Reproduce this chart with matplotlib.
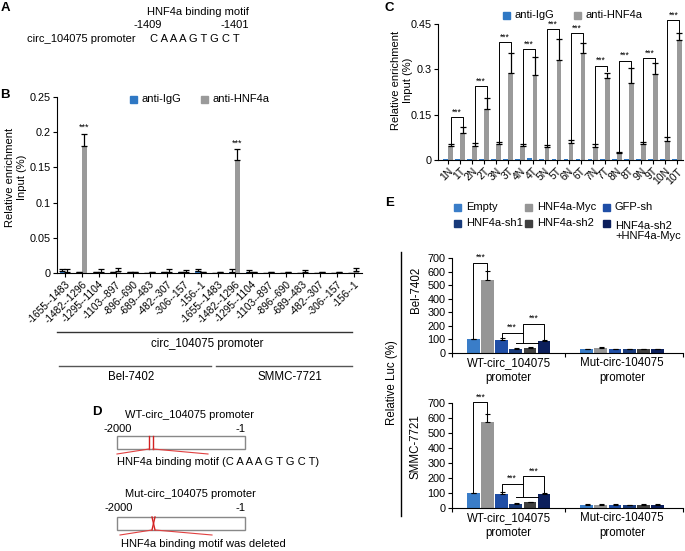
import numpy as np
import matplotlib
matplotlib.use("Agg")
import matplotlib.pyplot as plt
from matplotlib.patches import Rectangle
from matplotlib.transforms import ScaledTranslation

plt.rcParams['font.family'] = ['Liberation Sans', 'DejaVu Sans']
plt.rcParams['font.size'] = 8
W, H = 685, 551

BLUE = "#2f78c4"
GRAY = "#9a9a9a"

# panel B data (ChIP, 9 promoter regions x 2 cell lines)
b_regions = ["-1655--1483", "-1482--1296", "-1295--1104", "-1103--897", "-896--690",
             "-689--483", "-482--307", "-306--157", "-156--1"]
b_labels = b_regions + b_regions
b_igg = [0.003, 0.001, 0.001, 0.001, 0.001, 0.0005, 0.001, 0.001, 0.003,
         0.0005, 0.002, 0.002, 0.0005, 0.0005, 0.0005, 0.0005, 0.0005, 0.0005]
b_igg_err = [0.002, 0, 0, 0, 0, 0, 0, 0, 0.002, 0, 0.003, 0.002, 0, 0, 0, 0, 0, 0]
b_hnf = [0.002, 0.18, 0.002, 0.003, 0.001, 0.001, 0.002, 0.001, 0.001,
         0.001, 0.16, 0.001, 0.001, 0.001, 0.002, 0.001, 0.001, 0.003]
b_hnf_err = [0.003, 0.018, 0.004, 0.004, 0.001, 0, 0.003, 0.003, 0,
             0, 0.016, 0, 0, 0, 0.002, 0, 0, 0.004]

# panel C data (10 paired N/T tissues)
c_labels = ["1N", "1T", "2N", "2T", "3N", "3T", "4N", "4T", "5N", "5T",
            "6N", "6T", "7N", "7T", "8N", "8T", "9N", "9T", "10N", "10T"]
c_igg = [0.002, 0.003, 0.002, 0.002, 0.003, 0.002, 0.002, 0.005, 0.002, 0.003,
         0.002, 0.003, 0.002, 0.003, 0.002, 0.002, 0.002, 0.002, 0.002, 0.002]
c_hnf = [0.046, 0.09, 0.047, 0.169, 0.053, 0.289, 0.046, 0.281, 0.044, 0.331,
         0.055, 0.353, 0.044, 0.27, 0.024, 0.254, 0.053, 0.285, 0.063, 0.397]
c_hnf_err = [0.007, 0.02, 0.01, 0.037, 0.008, 0.064, 0.007, 0.059, 0.005, 0.068,
             0.011, 0.033, 0.008, 0.019, 0.002, 0.049, 0.008, 0.035, 0.012, 0.024]
c_bracket = [0.141, 0.245, 0.39, 0.366, 0.432, 0.419, 0.312, 0.329, 0.336, 0.463]

# panel E data (luciferase)
e_groups = ["WT-circ_104075\npromoter", "Mut-circ-104075\npromoter"]
e_series = ["Empty", "HNF4a-Myc", "GFP-sh", "HNF4a-sh1", "HNF4a-sh2", "HNF4a-sh2\n+HNF4a-Myc"]
e_colors = ["#3a7dc8", "#969696", "#1f4ea6", "#183a7a", "#404040", "#0c1f5c"]
bel_wt = [100, 540, 97, 30, 40, 90]
bel_wt_err = [3, 65, 10, 4, 5, 8]
bel_mut = [30, 40, 30, 30, 28, 30]
bel_mut_err = [3, 4, 3, 3, 2, 3]
smmc_wt = [100, 575, 95, 30, 38, 92]
smmc_wt_err = [3, 50, 13, 4, 5, 5]
smmc_mut = [22, 22, 22, 20, 20, 22]
smmc_mut_err = [2, 3, 2, 2, 4, 3]
bel_brk = [666, 150, 74, 217]
smmc_brk = [704, 162, 71, 211]

fig = plt.figure(figsize=(W / 100, H / 100), dpi=100)
ov = fig.add_axes([0, 0, 1, 1])
ov.set_xlim(0, W)
ov.set_ylim(H, 0)
ov.axis('off')
shift = ScaledTranslation(0.05, -0.02, fig.dpi_scale_trans)


def add_ax(x0, y0, x1, y1):
    a = fig.add_axes([x0 / W, 1 - y1 / H, (x1 - x0) / W, (y1 - y0) / H])
    a.spines['top'].set_visible(False)
    a.spines['right'].set_visible(False)
    a.patch.set_alpha(0)
    return a


def legend_box(x, y, color, label):
    ov.add_patch(Rectangle((x - 3.5, y - 3.5), 7, 7, color=color))
    ov.text(x + 8, y, label, va='center', ha='left', fontsize=8)


def letter(x, y, s):
    ov.text(x, y, s, fontsize=9.5, fontweight='bold', va='center', ha='center')


# ---------- A ----------
letter(5, 8, "A")
ov.text(198, 12, "HNF4a binding motif", ha='center', va='center')
ov.text(148, 25, "-1409", ha='center', va='center')
ov.text(235, 25, "-1401", ha='center', va='center')
ov.text(27, 39, "circ_104075 promoter", ha='left', va='center')
ov.text(195, 39, "C A A A G T G C T", ha='center', va='center')

# ---------- B ----------
letter(5, 95, "B")
axb = add_ax(57, 97, 362, 273)
xb = np.arange(len(b_labels))
axb.bar(xb - 0.15, b_igg, 0.3, color=BLUE, yerr=[np.zeros(18), b_igg_err],
        error_kw=dict(lw=0.9, capsize=2, capthick=0.9))
axb.bar(xb + 0.15, b_hnf, 0.3, color=GRAY, yerr=[np.zeros(18), b_hnf_err],
        error_kw=dict(lw=0.9, capsize=2.5, capthick=0.9))
for i in range(18):
    if b_hnf[i] > 0.1:
        axb.text(xb[i] + 0.15, b_hnf[i] + b_hnf_err[i] + 0.002, "***",
                 ha='center', va='bottom', fontsize=6.5)
axb.set_ylim(0, 0.25)
axb.set_xlim(-0.45, 17.5)
axb.set_yticks([0, 0.05, 0.1, 0.15, 0.2, 0.25])
axb.set_yticklabels(["0", "0.05", "0.1", "0.15", "0.2", "0.25"], fontsize=7.8)
axb.set_xticks(xb)
axb.set_xticklabels(b_labels, rotation=45, ha='right', va='top',
                    rotation_mode='anchor', fontsize=7.3)
for lbl in axb.get_xticklabels():
    lbl.set_transform(lbl.get_transform() + shift)
axb.tick_params(length=3, pad=1.5)
legend_box(134, 99, BLUE, "anti-IgG")
legend_box(205, 99, GRAY, "anti-HNF4a")
ov.text(16, 177, "Relative enrichment\nInput (%)", rotation=90, ha='center',
        va='center', multialignment='center', fontsize=8, linespacing=1.15)
ov.plot([57, 352], [332, 332], color='#333333', lw=1)
ov.text(207, 344, "circ_104075 promoter", ha='center', va='center', fontsize=8.3)
ov.plot([59, 211], [366, 366], color='#555555', lw=1)
ov.plot([216, 352], [366, 366], color='#555555', lw=1)
ov.text(131, 377, "Bel-7402", ha='center', va='center', fontsize=8.3)
ov.text(290, 377, "SMMC-7721", ha='center', va='center', fontsize=8.3)

# ---------- C ----------
letter(389, 8, "C")
axc = add_ax(438, 24, 683, 160)
xc = np.arange(len(c_labels))
axc.bar(xc - 0.22, c_igg, 0.4, color=BLUE)
axc.bar(xc + 0.2, c_hnf, 0.4, color=GRAY, yerr=[np.zeros(20), c_hnf_err],
        error_kw=dict(lw=0.9, capsize=2, capthick=0.9))
for k in range(10):
    n, t = 2 * k, 2 * k + 1
    top = c_bracket[k]
    xl, xr = xc[n] + 0.2, xc[t] + 0.2
    axc.plot([xl, xl, xr, xr],
             [c_hnf[n] + c_hnf_err[n], top, top, c_hnf[t] + c_hnf_err[t] + 0.004],
             color='black', lw=0.7, clip_on=False)
    axc.text((xl + xr) / 2, top + 0.002, "***", ha='center', va='bottom',
             fontsize=6.2, clip_on=False)
axc.set_ylim(0, 0.45)
axc.set_xlim(-0.85, 19.5)
axc.set_yticks([0, 0.15, 0.3, 0.45])
axc.set_yticklabels(["0", "0.15", "0.3", "0.45"], fontsize=7.8)
axc.set_xticks(xc)
axc.set_xticklabels(c_labels, rotation=45, ha='right', va='top',
                    rotation_mode='anchor', fontsize=7.5)
for lbl in axc.get_xticklabels():
    lbl.set_transform(lbl.get_transform() + shift)
axc.tick_params(length=3, pad=1.5)
legend_box(507, 15, BLUE, "anti-IgG")
legend_box(578, 15, GRAY, "anti-HNF4a")
ov.text(402, 80, "Relative enrichment\nInput (%)", rotation=90, ha='center',
        va='center', multialignment='center', fontsize=8, linespacing=1.15)

# ---------- D ----------
letter(97, 412, "D")
ov.text(190, 415, "WT-circ_104075 promoter", ha='center', va='center')
ov.text(118, 429, "-2000", ha='center', va='center')
ov.text(241, 429, "-1", ha='center', va='center')
ov.add_patch(Rectangle((117, 436), 128, 13, fill=False, ec='#888888', lw=1))
ov.plot([149, 149], [436, 449], color='#d42020', lw=1)
ov.plot([153, 153], [436, 449], color='#d42020', lw=1)
ov.plot([149, 117], [449, 454], color='#e04040', lw=0.8)
ov.plot([153, 208], [449, 454], color='#e04040', lw=0.8)
ov.text(117, 462, "HNF4a binding motif (C A A A G T G C T)", ha='left', va='center')
ov.text(190, 494, "Mut-circ_104075 promoter", ha='center', va='center')
ov.text(119, 508, "-2000", ha='center', va='center')
ov.text(241, 508, "-1", ha='center', va='center')
ov.add_patch(Rectangle((117, 517), 128, 13, fill=False, ec='#888888', lw=1))
ov.plot([152, 155], [517, 530], color='#d42020', lw=1)
ov.plot([155, 152], [517, 530], color='#d42020', lw=1)
ov.plot([152, 120], [530, 535], color='#e04040', lw=0.8)
ov.plot([155, 212], [530, 535], color='#e04040', lw=0.8)
ov.text(121, 544, "HNF4a binding motif was deleted", ha='left', va='center')

# ---------- E ----------
letter(390, 203, "E")
leg_pos = [(458, 207), (529, 207), (607, 207), (458, 223), (529, 223), (607, 223)]
for (lx, ly), c, s in zip(leg_pos, e_colors, e_series):
    if "\n" in s:
        ov.add_patch(Rectangle((lx - 3.5, ly - 3.5), 7, 7, color=c))
        ov.text(lx + 8, ly + 8, s, va='center', ha='left', fontsize=8,
                linespacing=1.1)
    else:
        legend_box(lx, ly, c, s)


def luc_panel(y0, y1, wt, wt_err, mut, mut_err, brk):
    ax = add_ax(452, y0, 683, y1)
    for i in range(6):
        ax.bar([i, i + 8], [wt[i], mut[i]], 0.9, color=e_colors[i],
               yerr=[[0, 0], [wt_err[i], mut_err[i]]],
               error_kw=dict(lw=0.8, capsize=1.8, capthick=0.8))
    top1, top2, tee, top3 = brk
    # Empty vs HNF4a-Myc
    ax.plot([0, 0, 1, 1], [wt[0] + wt_err[0], top1, top1, wt[1] + wt_err[1] + 8],
            color='black', lw=0.7, clip_on=False)
    ax.text(0.5, top1 + 4, "***", ha='center', va='bottom', fontsize=6.2, clip_on=False)
    # GFP-sh vs sh1/sh2
    ax.plot([3.0, 4.6], [tee, tee], color='black', lw=0.7)
    ax.plot([2, 2, 3.5, 3.5], [wt[2] + wt_err[2] + 5, top2, top2, tee],
            color='black', lw=0.7)
    ax.text(2.75, top2 + 4, "***", ha='center', va='bottom', fontsize=6.2)
    # sh1/sh2 vs sh2+Myc
    ax.plot([3.5, 3.5, 5, 5], [top2, top3, top3, wt[5] + wt_err[5] + 5],
            color='black', lw=0.7)
    ax.text(4.25, top3 + 4, "***", ha='center', va='bottom', fontsize=6.2)
    ax.set_ylim(0, 700)
    ax.set_xlim(-1.5, 14.8)
    ax.set_yticks(range(0, 701, 100))
    ax.set_yticklabels([str(v) for v in range(0, 701, 100)], fontsize=7.8)
    ax.set_xticks([-1.5, 6.5, 14.8])
    ax.set_xticklabels([])
    ax.set_xticks([2.5, 10.5], minor=True)
    ax.set_xticklabels(e_groups, minor=True, fontsize=8.3, linespacing=1.3)
    ax.tick_params(axis='x', which='minor', length=0, pad=3)
    ax.tick_params(length=3, pad=1.5)
    return ax


luc_panel(258, 353, bel_wt, bel_wt_err, bel_mut, bel_mut_err, bel_brk)
luc_panel(403, 508, smmc_wt, smmc_wt_err, smmc_mut, smmc_mut_err, smmc_brk)
ov.text(416, 290, "Bel-7402", rotation=90, ha='center', va='center', fontsize=8.3)
ov.text(416, 447, "SMMC-7721", rotation=90, ha='center', va='center', fontsize=8.3)
ov.text(392, 383, "Relative Luc (%)", rotation=90, ha='center', va='center', fontsize=8.3)
ov.plot([401, 401], [252, 516], color='black', lw=1)

fig.savefig("out.png", dpi=100)
